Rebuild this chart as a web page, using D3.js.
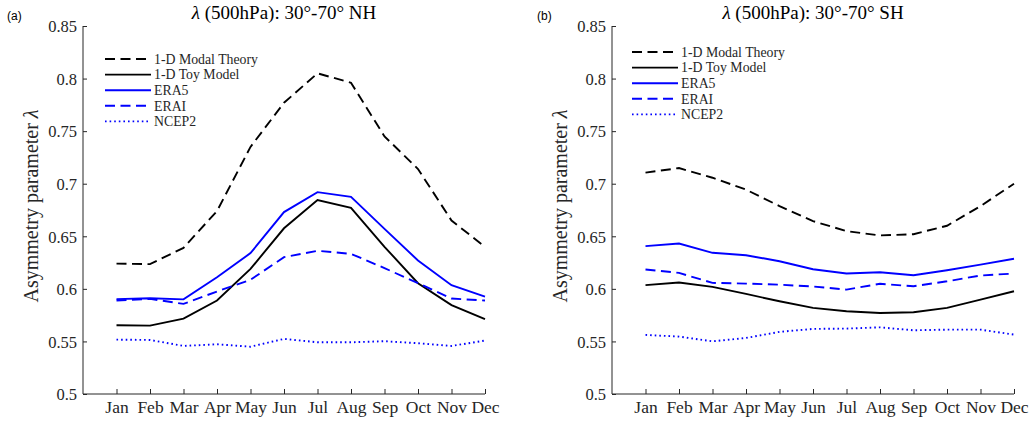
<!DOCTYPE html>
<html>
<head>
<meta charset="utf-8">
<script src="https://cdn.jsdelivr.net/npm/d3@7"></script>
<style>
    body { margin: 0; background: white; }
    text { font-family: "Liberation Serif", "DejaVu Serif", serif; fill: #262626; }
</style>
</head>
<body>
<div id="chart"></div>
<script>
// month labels shared by both panels
const months = ["Jan", "Feb", "Mar", "Apr", "May", "Jun", "Jul", "Aug", "Sep", "Oct", "Nov", "Dec"];
const yTicks = [0.5, 0.55, 0.6, 0.65, 0.7, 0.75, 0.8, 0.85];
const seriesNames = ["1-D Modal Theory", "1-D Toy Model", "ERA5", "ERAI", "NCEP2"];

// northern hemisphere values (30-70 NH)
const nhModal = [0.624, 0.6235, 0.639, 0.674, 0.735, 0.777, 0.805, 0.796, 0.745, 0.714, 0.665, 0.640];
const nhToy   = [0.5654, 0.565, 0.5717, 0.5889, 0.619, 0.6576, 0.6845, 0.677, 0.640, 0.6054, 0.5845, 0.5711];
const nhEra5  = [0.5902, 0.5911, 0.590, 0.6111, 0.634, 0.673, 0.692, 0.6875, 0.657, 0.627, 0.6035, 0.5927];
const nhErai  = [0.5889, 0.5905, 0.5857, 0.5975, 0.6086, 0.6302, 0.6362, 0.6333, 0.6197, 0.6054, 0.5908, 0.5889];
const nhNcep2 = [0.5517, 0.5514, 0.5457, 0.5473, 0.545, 0.5524, 0.5492, 0.5492, 0.5502, 0.5483, 0.5457, 0.5508];

// southern hemisphere values (30-70 SH)
const shModal = [0.7105, 0.7149, 0.7057, 0.6944, 0.6787, 0.6644, 0.6549, 0.6508, 0.652, 0.660, 0.6787, 0.700];
const shToy   = [0.6035, 0.606, 0.6019, 0.5952, 0.5882, 0.5819, 0.5787, 0.5771, 0.5777, 0.5819, 0.5898, 0.5977];
const shEra5  = [0.6406, 0.6431, 0.6343, 0.632, 0.6263, 0.6187, 0.6146, 0.6158, 0.613, 0.6177, 0.6231, 0.6286];
const shErai  = [0.6184, 0.6152, 0.6057, 0.605, 0.604, 0.6022, 0.5993, 0.6048, 0.6025, 0.6072, 0.6127, 0.6146];
const shNcep2 = [0.5562, 0.5546, 0.5501, 0.5533, 0.5591, 0.5619, 0.5622, 0.5634, 0.5606, 0.5612, 0.5612, 0.5565];

// line styles per series
const styles = [
    { color: "#000000", dash: "10,5.5" },
    { color: "#000000", dash: null },
    { color: "#0000ff", dash: null },
    { color: "#0000ff", dash: "10,5.5" },
    { color: "#0000ff", dash: "1.6,3" }
];

const width = 1030;
const height = 423;
const serif = "'Liberation Serif', 'DejaVu Serif', serif";

const svg = d3.select("#chart")
    .append("svg")
    .attr("width", width)
    .attr("height", height);

// draw one panel
function drawPanel(opts) {
    const x = d3.scaleLinear().domain([0, 12]).range([opts.left, opts.right]);
    const y = d3.scaleLinear().domain([0.5, 0.85]).range([394, 26]);

    const g = svg.append("g");

    // panel tag in sans font
    g.append("text")
        .attr("x", opts.tagX)
        .attr("y", 20)
        .style("font-family", "'Liberation Sans', Arial, sans-serif")
        .style("font-size", "12px")
        .style("fill", "#000")
        .text(opts.tag);

    // title
    const title = g.append("text")
        .attr("x", (opts.left + opts.right) / 2)
        .attr("y", 19)
        .style("text-anchor", "middle")
        .style("font-family", serif)
        .style("font-size", "19px")
        .style("fill", "#000");
    title.append("tspan").style("font-style", "italic").text("λ");
    title.append("tspan").text(" (500hPa): 30°-70° " + opts.hemi);

    // y axis, ticks pointing inward
    const yAxis = d3.axisRight(y)
        .tickValues(yTicks)
        .tickSize(4)
        .tickFormat(d => String(+d.toFixed(2)));
    const ya = g.append("g")
        .attr("transform", `translate(${opts.left},0)`)
        .call(yAxis);
    ya.select(".domain").attr("stroke", "#262626").attr("d", `M0,26V394`);
    ya.selectAll(".tick line").attr("stroke", "#262626");
    ya.selectAll(".tick text")
        .attr("x", -6)
        .attr("dy", "0.35em")
        .style("text-anchor", "end")
        .style("font-size", "16.5px")
        .style("font-family", serif);

    // x axis, ticks pointing up
    const xAxis = d3.axisTop(x)
        .tickValues(d3.range(1, 13))
        .tickSize(5)
        .tickFormat(d => months[d - 1]);
    const xa = g.append("g")
        .attr("transform", `translate(0,394)`)
        .call(xAxis);
    xa.select(".domain").attr("stroke", "#262626").attr("d", `M${opts.left},0H${opts.right}`);
    xa.selectAll(".tick line").attr("stroke", "#262626");
    xa.selectAll(".tick text")
        .attr("y", 19)
        .attr("dy", 0)
        .style("font-size", "17.5px")
        .style("font-family", serif);

    // y label
    const ylab = g.append("text")
        .attr("transform", `translate(${opts.left - 45},206) rotate(-90)`)
        .style("text-anchor", "middle")
        .style("font-family", serif)
        .style("font-size", "20px");
    ylab.append("tspan").text("Asymmetry parameter ");
    ylab.append("tspan").style("font-style", "italic").text("λ");

    // lines
    const line = d3.line()
        .x((d, i) => x(i + 1))
        .y(d => y(d));

    opts.series.forEach((s, i) => {
        g.append("path")
            .datum(s)
            .attr("d", line)
            .attr("fill", "none")
            .attr("stroke", styles[i].color)
            .attr("stroke-width", 1.9)
            .attr("stroke-dasharray", styles[i].dash);
    });

    // legend
    const leg = g.append("g");
    seriesNames.forEach((name, i) => {
        const ly = opts.legY + i * 15.6;
        leg.append("line")
            .attr("x1", opts.legX)
            .attr("x2", opts.legX + 46)
            .attr("y1", ly)
            .attr("y2", ly)
            .attr("stroke", styles[i].color)
            .attr("stroke-width", 1.9)
            .attr("stroke-dasharray", styles[i].dash);
        leg.append("text")
            .attr("x", opts.legX + 49)
            .attr("y", ly)
            .attr("dy", "0.35em")
            .style("font-family", serif)
            .style("font-size", "13.8px")
            .text(name);
    });
}

drawPanel({
    tag: "(a)", tagX: 7, hemi: "NH",
    left: 83, right: 485,
    legX: 105, legY: 59,
    series: [nhModal, nhToy, nhEra5, nhErai, nhNcep2]
});

drawPanel({
    tag: "(b)", tagX: 537, hemi: "SH",
    left: 612, right: 1014,
    legX: 632, legY: 52,
    series: [shModal, shToy, shEra5, shErai, shNcep2]
});
</script>
</body>
</html>
